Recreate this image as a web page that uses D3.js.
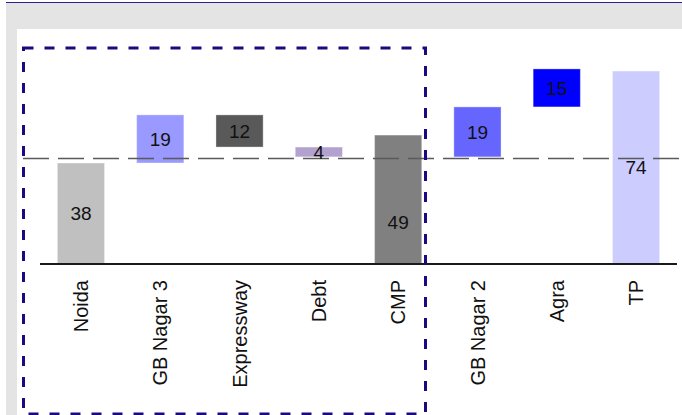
<!DOCTYPE html>
<html>
<head>
<meta charset="utf-8">
<script src="https://cdn.jsdelivr.net/npm/d3@7"></script>
<style>
  body { margin: 0; background: #fff; }
  svg { display: block; font-family: "Liberation Sans", Arial, sans-serif; }
</style>
</head>
<body>
<svg id="chart" width="682" height="415"></svg>
<script>
// waterfall data
const categories = ["Noida", "GB Nagar 3", "Expressway", "Debt", "CMP", "GB Nagar 2", "Agra", "TP"];
const barFrom = [0, 38, 56.1, 44.0, 0, 40.3, 59.1, 0];
const barTo = [38, 56.1, 44.0, 40.3, 48.5, 59.1, 73.4, 72.6];
const valueLabels = ["38", "19", "12", "4", "49", "19", "15", "74"];
const labelAt = [null, null, null, null, 15.8, null, null, null]; // null = middle of bar
const refValue = 39.7; // dashed reference line
const colors = ["#c0c0c0", "#9999ff", "#595959", "#b3a2cf", "#808080", "#6666ff", "#0000ff", "#ccccff"];

function drawChart() {
    const svg = d3.select("#chart");

    // page frame
    svg.append("rect").attr("x", 6).attr("y", 3).attr("width", 676).attr("height", 412).attr("fill", "#e4e4e4");
    svg.append("line").attr("x1", 6).attr("x2", 682).attr("y1", 2.5).attr("y2", 2.5)
        .attr("stroke", "#2b1f8f").attr("stroke-width", 1);
    svg.append("rect").attr("x", 17).attr("y", 29).attr("width", 665).attr("height", 386).attr("fill", "#fff");

    const x = d3.scaleBand()
        .domain(categories)
        .range([41.3, 675.7])
        .paddingInner(0.405)
        .paddingOuter(0.2025);

    const y = d3.scaleLinear()
        .domain([0, 80])
        .range([264, 264 - 80 * 2.658]);

    const data = categories.map((c, i) => ({
        name: c, from: barFrom[i], to: barTo[i], label: valueLabels[i], at: labelAt[i], color: colors[i]
    }));

    // bars
    svg.append("g").selectAll("rect")
        .data(data)
        .join("rect")
        .attr("x", d => x(d.name))
        .attr("width", x.bandwidth())
        .attr("y", d => y(Math.max(d.from, d.to)))
        .attr("height", d => Math.abs(y(d.from) - y(d.to)))
        .attr("fill", d => d.color)
        .attr("stroke", "rgba(255,255,255,0.35)")
        .attr("stroke-width", 1);

    // dashed reference line
    svg.append("line")
        .attr("x1", 23).attr("x2", 682)
        .attr("y1", y(refValue)).attr("y2", y(refValue))
        .attr("stroke", "#5a5a5a")
        .attr("stroke-width", 1.5)
        .attr("stroke-dasharray", "26,9");

    // value labels
    svg.append("g").selectAll("text")
        .data(data)
        .join("text")
        .attr("x", d => x(d.name) + x.bandwidth() / 2)
        .attr("y", d => y(d.at != null ? d.at : (d.from + d.to) / 2))
        .attr("dy", "0.36em")
        .attr("text-anchor", "middle")
        .style("font-size", "19px")
        .attr("fill", "#111")
        .text(d => d.label);

    // baseline axis with rotated category labels
    const axis = svg.append("g")
        .attr("transform", `translate(0,${y(0)})`)
        .call(d3.axisBottom(x).tickSize(0).tickPadding(0));
    axis.select(".domain").remove();
    axis.append("line")
        .attr("x1", 40).attr("x2", 677)
        .attr("stroke", "#1a1a1a").attr("stroke-width", 2);
    axis.selectAll(".tick text")
        .attr("transform", "rotate(-90)")
        .attr("x", -16)
        .attr("y", 0)
        .attr("dy", "0.36em")
        .attr("text-anchor", "end")
        .attr("fill", "#111")
        .style("font-size", "20px")
        .style("font-family", "'Liberation Sans', Arial, sans-serif");

    // dashed selection box
    svg.append("rect")
        .attr("x", 23.5).attr("y", 48)
        .attr("width", 402).attr("height", 366)
        .attr("fill", "none")
        .attr("stroke", "#1a0a80")
        .attr("stroke-width", 3)
        .attr("stroke-dasharray", "10,11");
}

drawChart();
</script>
</body>
</html>
